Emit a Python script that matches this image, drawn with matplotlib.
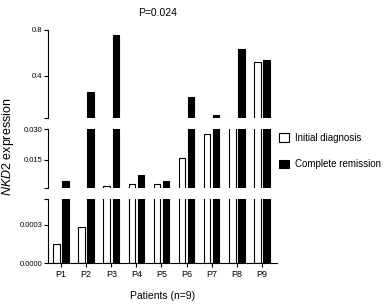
import numpy as np
import matplotlib.pyplot as plt
from matplotlib.patches import Patch

plt.rcParams['font.family'] = ['Liberation Sans', 'DejaVu Sans']
plt.rcParams['mathtext.fontset'] = 'custom'
plt.rcParams['mathtext.it'] = 'Liberation Sans:italic'
plt.rcParams['mathtext.rm'] = 'Liberation Sans'

patients = ['P1', 'P2', 'P3', 'P4', 'P5', 'P6', 'P7', 'P8', 'P9']
initial = [0.00015, 0.000285, 0.0025, 0.0033, 0.0032, 0.0158, 0.0274, 0.038, 0.518]
remission = [0.0047, 0.259, 0.754, 0.0077, 0.0046, 0.216, 0.063, 0.633, 0.538]

# broken y axis: (ylim, ticks, labels)
segments = [
    ((0.035, 0.8), [0.035, 0.4, 0.8], ['', '0.4', '0.8']),
    ((0.0012, 0.030), [0.0012, 0.015, 0.030], ['', '0.015', '0.030']),
    ((0.0, 0.0005), [0.0, 0.0003, 0.0005], ['0.0000', '0.0003', '']),
]
# pixel extents (top, bottom) of each panel
panels = [(29.7, 118), (129, 188.3), (199, 263)]

W, H = 390, 308
fig = plt.figure(figsize=(W / 100, H / 100), dpi=100)
x = np.arange(len(patients))
left, right = 48 / W, 277 / W

axes = []
for (lim, ticks, labels), (t, b) in zip(segments, panels):
    ax = fig.add_axes([left, 1 - b / H, right - left, (b - t) / H])
    ax.bar(x - 0.18, initial, width=0.26, color='white', edgecolor='black', linewidth=0.8)
    ax.bar(x + 0.18, remission, width=0.26, color='black', edgecolor='black', linewidth=0.8)
    ax.set_ylim(*lim)
    ax.set_xlim(-0.52, 8.6)
    ax.set_yticks(ticks)
    ax.set_yticklabels(labels, fontsize=5.5)
    for s in ['top', 'right', 'bottom']:
        ax.spines[s].set_visible(False)
    ax.spines['left'].set_linewidth(0.8)
    ax.tick_params(axis='y', length=3, width=0.8, pad=1)
    ax.set_xticks([])
    axes.append(ax)

axb = axes[-1]
axb.spines['bottom'].set_visible(True)
axb.spines['bottom'].set_linewidth(0.8)
axb.set_xticks(x)
axb.set_xticklabels(patients, fontsize=6.5)
axb.tick_params(axis='x', length=3, width=0.8, pad=2)

fig.text(158 / W, 1 - 13 / H, 'P=0.024', fontsize=7.5, ha='center', va='center')
fig.text(163 / W, 1 - 296 / H, 'Patients (n=9)', fontsize=7.5, ha='center', va='center')
fig.text(8 / W, 1 - 147 / H, r'$\mathit{NKD2}$ expression', fontsize=9,
         rotation=90, ha='center', va='center')

handles = [Patch(facecolor='white', edgecolor='black', linewidth=0.8, label='Initial diagnosis'),
           Patch(facecolor='black', edgecolor='black', linewidth=0.8, label='Complete remission')]
fig.legend(handles=handles, loc='upper left', bbox_to_anchor=(270 / W, 1 - 124 / H),
           frameon=False, fontsize=7, handlelength=1.1, handleheight=1.0,
           handletextpad=0.6, labelspacing=1.7)

fig.savefig('out.png', dpi=100)
